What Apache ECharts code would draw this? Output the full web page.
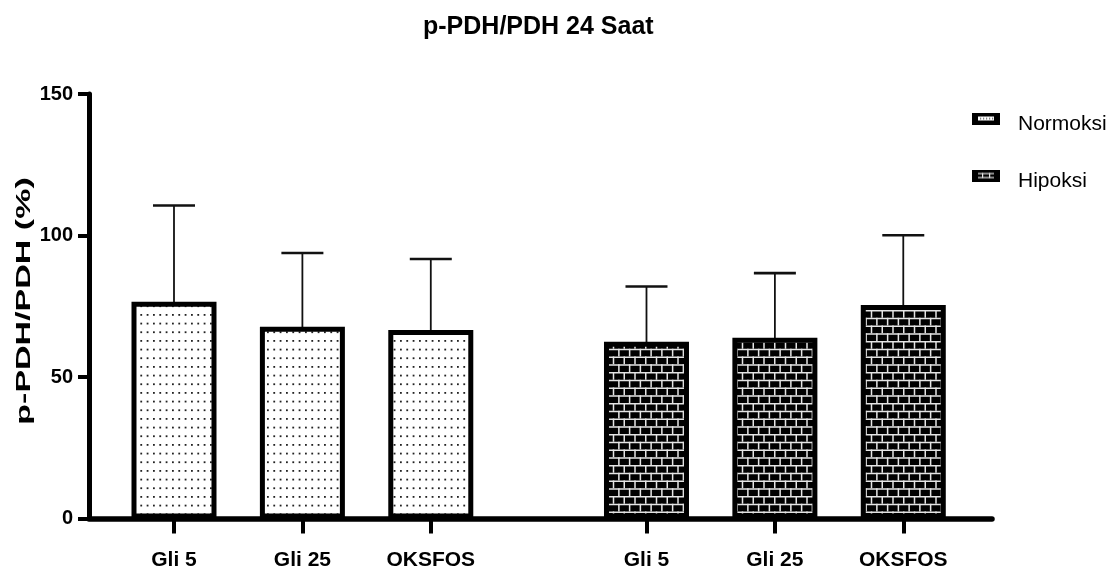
<!DOCTYPE html>
<html>
<head>
<meta charset="utf-8">
<script src="https://cdn.jsdelivr.net/npm/echarts@6/dist/echarts.min.js"></script>
<style>
  html, body { margin: 0; padding: 0; background: #fff; }
  #chart { width: 1115px; height: 583px; }
</style>
</head>
<body>
<div id="chart"></div>
<script>
// ---- data ----
const categories = ['Gli 5', 'Gli 25', 'OKSFOS'];
const seriesNames = ['Normoksi', 'Hipoksi'];
const normoksiMean = [76.6, 67.8, 66.6];
const normoksiSD = [34.0, 26.0, 25.1];
const hipoksiMean = [62.5, 63.9, 75.4];
const hipoksiSD = [19.5, 22.8, 24.7];
const yTicks = [0, 50, 100, 150];

// ---- layout: two groups of three bars on a continuous x scale ----
const groupStart = [0, 3.68];
const xNormoksi = categories.map((_, i) => groupStart[0] + i);
const xHipoksi = categories.map((_, i) => groupStart[1] + i);
const xPositions = xNormoksi.concat(xHipoksi);
const xLabels = categories.concat(categories);

const SANS = '"Liberation Sans", Arial, Helvetica, sans-serif';

function makeCanvas(w, h) {
  const c = document.createElement('canvas');
  c.width = w; c.height = h;
  return c;
}

// dotted fill
function dotPattern() {
  const w = 19, h = 26;
  const c = makeCanvas(w, h);
  const g = c.getContext('2d');
  g.fillStyle = '#fff';
  g.fillRect(0, 0, w, h);
  g.fillStyle = '#222';
  for (let i = 0; i < 3; i++) {
    for (let j = 0; j < 3; j++) {
      g.fillRect(1 + i * w / 3, 2 + j * h / 3, 1.8, 1.8);
    }
  }
  return c;
}

// brick fill: black bricks, light mortar
function brickPattern() {
  const w = 43, h = 31, rows = 4, cols = 4, m = 1.5;
  const c = makeCanvas(w, h);
  const g = c.getContext('2d');
  g.fillStyle = '#000';
  g.fillRect(0, 0, w, h);
  g.fillStyle = '#e4e4e4';
  const rowH = h / rows, brickW = w / cols;
  for (let r = 0; r < rows; r++) {
    const y = r * rowH;
    g.fillRect(0, y, w, m);
    const off = (r % 2) ? brickW / 2 : 0;
    for (let k = -1; k <= cols; k++) {
      g.fillRect(off + k * brickW, y, m, rowH);
    }
  }
  return c;
}

// legend swatches: heavy black frame with a sliver of the fill showing
function dotIcon() {
  const c = makeCanvas(28, 12);
  const g = c.getContext('2d');
  g.fillStyle = '#000'; g.fillRect(0, 0, 28, 12);
  g.fillStyle = '#fff'; g.fillRect(6, 4, 16, 4);
  g.fillStyle = '#333';
  for (let x = 8; x < 21; x += 3) g.fillRect(x, 5.5, 1.2, 1.2);
  return 'image://' + c.toDataURL();
}
function brickIcon() {
  const c = makeCanvas(28, 12);
  const g = c.getContext('2d');
  g.fillStyle = '#000'; g.fillRect(0, 0, 28, 12);
  g.fillStyle = '#e8e8e8';
  g.fillRect(6, 3.5, 16, 1.2);
  g.fillRect(6, 7.5, 16, 1.2);
  g.fillRect(10, 3.5, 1.2, 5);
  g.fillRect(17, 3.5, 1.2, 5);
  return 'image://' + c.toDataURL();
}

const dotFill = { image: dotPattern(), repeat: 'repeat' };
const brickFill = { image: brickPattern(), repeat: 'repeat' };

function barSeries(name, xs, means, fill) {
  return {
    type: 'bar',
    name: name,
    barWidth: 85,
    barGap: '-100%',
    z: 3,
    data: xs.map((x, i) => [x, means[i]]),
    itemStyle: { color: fill, borderColor: '#000', borderWidth: 5 }
  };
}

function errorSeries(xs, means, sds) {
  return {
    type: 'custom',
    name: 'sd',
    z: 2,
    data: xs.map((x, i) => [x, means[i], means[i] + sds[i]]),
    encode: { x: 0, y: [1, 2] },
    renderItem: function (params, api) {
      const x = api.value(0);
      const base = api.coord([x, api.value(1)]);
      const top = api.coord([x, api.value(2)]);
      const half = 21;
      return {
        type: 'group',
        children: [
          { type: 'line', shape: { x1: base[0], y1: base[1] + 3, x2: top[0], y2: top[1] },
            style: { stroke: '#111', lineWidth: 1.8 } },
          { type: 'line', shape: { x1: top[0] - half, y1: top[1], x2: top[0] + half, y2: top[1] },
            style: { stroke: '#111', lineWidth: 2.6 } }
        ]
      };
    }
  };
}

const chart = echarts.init(document.getElementById('chart'), null, { renderer: 'canvas' });

chart.setOption({
  backgroundColor: '#fff',
  animation: false,
  title: {
    text: 'p-PDH/PDH 24 Saat',
    left: 418,
    top: 10,
    textStyle: { fontFamily: SANS, fontWeight: 'bold', fontSize: 25, color: '#000' }
  },
  legend: {
    orient: 'vertical',
    left: 972,
    top: 102,
    padding: 0,
    itemWidth: 28,
    itemHeight: 12,
    itemGap: 24,
    formatter: function (name) { return '{t|' + name + '}'; },
    textStyle: {
      fontFamily: SANS, fontSize: 21, color: '#000',
      rich: { t: { fontFamily: SANS, fontSize: 21, color: '#000', lineHeight: 30, padding: [12, 0, 0, 13] } }
    },
    data: [
      { name: seriesNames[0], icon: dotIcon() },
      { name: seriesNames[1], icon: brickIcon() }
    ]
  },
  grid: { left: 89, right: 123, top: 94, bottom: 64.5, containLabel: false },
  xAxis: {
    type: 'value',
    min: -0.662,
    max: 6.371,
    splitLine: { show: false },
    axisLine: { show: true, onZero: false, lineStyle: { color: '#000', width: 5.5 } },
    axisTick: { show: true, customValues: xPositions, length: 15, lineStyle: { color: '#000', width: 4 } },
    axisLabel: {
      customValues: xPositions,
      margin: 31,
      fontFamily: SANS,
      fontWeight: 'bold',
      fontSize: 21,
      color: '#000',
      formatter: function (v) {
        const i = xPositions.findIndex(p => Math.abs(p - v) < 1e-6);
        return i >= 0 ? xLabels[i] : '';
      }
    }
  },
  yAxis: {
    type: 'value',
    min: yTicks[0],
    max: yTicks[yTicks.length - 1],
    interval: yTicks[1] - yTicks[0],
    splitLine: { show: false },
    axisLine: { show: true, onZero: false, lineStyle: { color: '#000', width: 5 } },
    axisTick: { show: true, length: 11, lineStyle: { color: '#000', width: 4 } },
    axisLabel: { margin: 16, fontFamily: SANS, fontWeight: 'bold', fontSize: 20, color: '#000' }
  },
  graphic: [{
    type: 'text',
    x: 24,
    y: 301,
    rotation: Math.PI / 2,
    scaleX: 1.7,
    style: {
      text: 'p-PDH/PDH (%)',
      font: 'bold 20px "Liberation Sans", Arial, sans-serif',
      fill: '#000',
      align: 'center',
      verticalAlign: 'middle',
      textAlign: 'center',
      textVerticalAlign: 'middle'
    }
  }],
  series: [
    errorSeries(xNormoksi, normoksiMean, normoksiSD),
    errorSeries(xHipoksi, hipoksiMean, hipoksiSD),
    barSeries(seriesNames[0], xNormoksi, normoksiMean, dotFill),
    barSeries(seriesNames[1], xHipoksi, hipoksiMean, brickFill)
  ]
});
</script>
</body>
</html>
